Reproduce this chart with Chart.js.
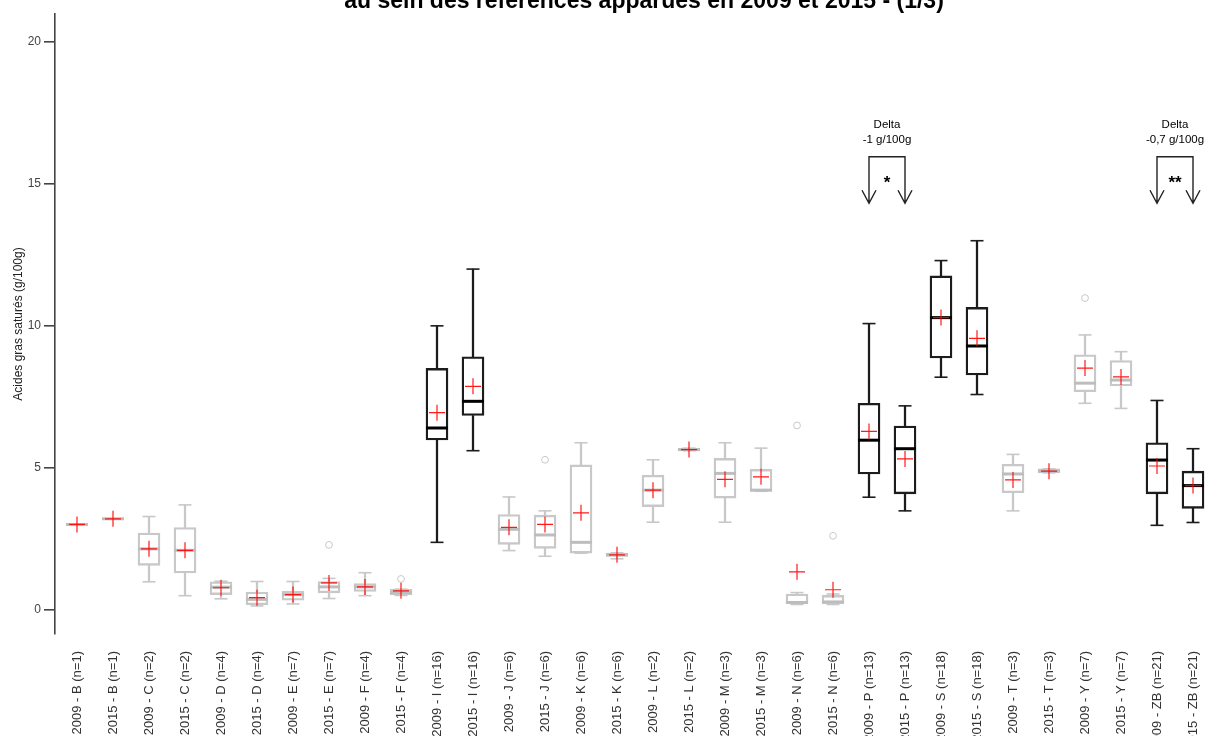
<!DOCTYPE html>
<html>
<head>
<meta charset="utf-8">
<script src="https://cdn.jsdelivr.net/npm/chart.js@4.4.1/dist/chart.umd.min.js"></script>
<style>
  html, body { margin: 0; padding: 0; background: #fff; }
  #wrap { width: 1211px; height: 736px; }
</style>
</head>
<body>
<div id="wrap"><canvas id="graf" width="1211" height="736"></canvas></div>
<script>
// titres
const titre = 'au sein des références apparues en 2009 et 2015 - (1/3)';
const titreAxeY = 'Acides gras saturés (g/100g)';

// categories (x)
const categories = [
  '2009 - B (n=1)', '2015 - B (n=1)', '2009 - C (n=2)', '2015 - C (n=2)',
  '2009 - D (n=4)', '2015 - D (n=4)', '2009 - E (n=7)', '2015 - E (n=7)',
  '2009 - F (n=4)', '2015 - F (n=4)', '2009 - I (n=16)', '2015 - I (n=16)',
  '2009 - J (n=6)', '2015 - J (n=6)', '2009 - K (n=6)', '2015 - K (n=6)',
  '2009 - L (n=2)', '2015 - L (n=2)', '2009 - M (n=3)', '2015 - M (n=3)',
  '2009 - N (n=6)', '2015 - N (n=6)', '2009 - P (n=13)', '2015 - P (n=13)',
  '2009 - S (n=18)', '2015 - S (n=18)', '2009 - T (n=3)', '2015 - T (n=3)',
  '2009 - Y (n=7)', '2015 - Y (n=7)', '2009 - ZB (n=21)', '2015 - ZB (n=21)'
];

// statistiques des boites (g/100g)
const moustacheBasse = [3.0, 3.2, 0.98, 0.49, 0.38, 0.13, 0.2, 0.39, 0.49, 0.5, 2.37, 5.6, 2.08, 1.88, 1.99, 1.79,
  3.08, 5.6, 3.08, 4.17, 0.18, 0.18, 3.96, 3.48, 8.19, 7.58, 3.48, 4.82, 7.27, 7.09, 2.97, 3.07];
const quartile1 = [3.0, 3.2, 1.56, 1.29, 0.53, 0.17, 0.33, 0.59, 0.64, 0.52, 5.98, 6.84, 2.3, 2.16, 1.99, 1.87,
  3.63, 5.6, 3.93, 4.17, 0.21, 0.21, 4.78, 4.08, 8.87, 8.27, 4.12, 4.82, 7.68, 7.88, 4.08, 3.57];
const mediane = [3.0, 3.2, 2.14, 2.09, 0.79, 0.36, 0.53, 0.8, 0.8, 0.6, 6.4, 7.34, 2.83, 2.63, 2.37, 1.93,
  4.21, 5.64, 4.8, 4.21, 0.25, 0.27, 5.97, 5.67, 10.29, 9.29, 4.78, 4.88, 7.98, 8.09, 5.27, 4.37];
const quartile3 = [3.0, 3.2, 2.7, 2.89, 0.98, 0.62, 0.64, 0.99, 0.92, 0.71, 8.5, 8.91, 3.35, 3.33, 5.1, 1.99,
  4.74, 5.69, 5.33, 4.94, 0.55, 0.5, 7.27, 6.47, 11.76, 10.65, 5.12, 4.96, 8.98, 8.78, 5.88, 4.88];
const moustacheHaute = [3.0, 3.2, 3.28, 3.69, 1.0, 0.99, 0.99, 1.1, 1.3, 0.72, 10.0, 12.0, 3.97, 3.48, 5.88, 2.0,
  5.28, 5.69, 5.88, 5.69, 0.6, 0.55, 10.08, 7.18, 12.3, 13.0, 5.47, 4.96, 9.68, 9.09, 7.37, 5.67];
const moyennes = [3.0, 3.2, 2.14, 2.09, 0.77, 0.42, 0.53, 0.94, 0.8, 0.66, 6.94, 7.87, 2.9, 3.0, 3.41, 1.93,
  4.21, 5.64, 4.59, 4.68, 1.33, 0.7, 6.28, 5.31, 10.29, 9.56, 4.57, 4.88, 8.51, 8.2, 5.06, 4.37];
// valeurs aberrantes : [index categorie, valeur]
const aberrants = [[7, 2.28], [9, 1.08], [13, 5.28], [20, 6.49], [21, 2.6], [28, 10.98]];

// references testees (boites noires) et comparaisons 2009 / 2015
const groupesTestes = ['I', 'P', 'S', 'ZB'];
const comparaisons = [
  { de: '2009 - P (n=13)', a: '2015 - P (n=13)', delta: '-1 g/100g', signif: '*' },
  { de: '2009 - ZB (n=21)', a: '2015 - ZB (n=21)', delta: '-0,7 g/100g', signif: '**' }
];
const ticksY = [0, 5, 10, 15, 20];
const X_MIN = -0.611, X_MAX = 31.5;

const POLICE = '"Liberation Sans", Arial, sans-serif';
const groupe = lab => lab.split(' - ')[1].split(' ')[0];
const estTeste = i => groupesTestes.includes(groupe(categories[i]));
const couleurTrait = i => estTeste(i) ? '#1c1c1c' : '#c8c8c8';
const couleurMediane = i => estTeste(i) ? '#000000' : '#bdbdbd';
const idx = categories.map((c, i) => i);

const annotations = {
  id: 'annotations',
  afterDraw(chart) {
    const ctx = chart.ctx;
    const sx = chart.scales.x, sy = chart.scales.y;
    ctx.save();
    // titre (coupe en haut comme sur l'original)
    ctx.fillStyle = '#000';
    ctx.font = 'bold 23px ' + POLICE;
    ctx.textAlign = 'center';
    ctx.textBaseline = 'alphabetic';
    ctx.fillText(titre, 644, 7.5);

    comparaisons.forEach(c => {
      const x1 = sx.getPixelForValue(categories.indexOf(c.de));
      const x2 = sx.getPixelForValue(categories.indexOf(c.a));
      const xm = (x1 + x2) / 2;
      const yHaut = sy.getPixelForValue(15.96);
      const yBas = sy.getPixelForValue(14.32);
      ctx.strokeStyle = '#222';
      ctx.lineWidth = 1.4;
      ctx.beginPath();
      ctx.moveTo(x1, yBas); ctx.lineTo(x1, yHaut); ctx.lineTo(x2, yHaut); ctx.lineTo(x2, yBas);
      [x1, x2].forEach(xx => {
        ctx.moveTo(xx - 7, yBas - 13); ctx.lineTo(xx, yBas); ctx.lineTo(xx + 7, yBas - 13);
      });
      ctx.stroke();

      ctx.fillStyle = '#000';
      ctx.textBaseline = 'middle';
      ctx.font = '11.5px ' + POLICE;
      ctx.fillText('Delta', xm, sy.getPixelForValue(17.07));
      ctx.fillText(c.delta, xm, sy.getPixelForValue(16.56));
      ctx.font = 'bold 17px ' + POLICE;
      ctx.textBaseline = 'alphabetic';
      ctx.fillText(c.signif, xm, sy.getPixelForValue(14.85));
    });
    ctx.restore();
  }
};

new Chart(document.getElementById('graf'), {
  type: 'bar',
  data: {
    datasets: [
      {
        type: 'scatter', label: 'Moyenne', order: 0,
        data: idx.map(i => ({ x: i, y: moyennes[i] })),
        pointStyle: 'cross', pointRadius: 8, pointHoverRadius: 8,
        borderColor: 'rgba(255, 0, 0, 0.9)', borderWidth: 1.2
      },
      {
        type: 'scatter', label: 'Médiane', order: 1,
        data: idx.map(i => ({ x: i, y: mediane[i] })),
        pointStyle: 'line', pointRadius: 11, pointHoverRadius: 11,
        borderColor: idx.map(couleurMediane), borderWidth: 3
      },
      {
        type: 'scatter', label: 'Aberrants', order: 2,
        data: aberrants.map(a => ({ x: a[0], y: a[1] })),
        pointStyle: 'circle', pointRadius: 3.4, pointHoverRadius: 3.4,
        borderColor: aberrants.map(a => couleurTrait(a[0])),
        backgroundColor: 'rgba(255,255,255,0)', borderWidth: 1
      },
      {
        type: 'bar', label: 'Boîte', order: 3, grouped: false,
        data: idx.map(i => ({ x: i, y: [quartile1[i], quartile3[i]] })),
        backgroundColor: 'rgba(255,255,255,0)',
        borderColor: idx.map(couleurTrait), borderWidth: 1.7,
        borderSkipped: false, barThickness: 22
      },
      {
        type: 'scatter', label: 'Extrémité haute', order: 4,
        data: idx.map(i => ({ x: i, y: moustacheHaute[i] })),
        pointStyle: 'line', pointRadius: 6.5, pointHoverRadius: 6.5,
        borderColor: idx.map(couleurTrait), borderWidth: 1.6
      },
      {
        type: 'scatter', label: 'Extrémité basse', order: 4,
        data: idx.map(i => ({ x: i, y: moustacheBasse[i] })),
        pointStyle: 'line', pointRadius: 6.5, pointHoverRadius: 6.5,
        borderColor: idx.map(couleurTrait), borderWidth: 1.6
      },
      {
        type: 'bar', label: 'Moustache haute', order: 5, grouped: false,
        data: idx.map(i => ({ x: i, y: [quartile3[i], moustacheHaute[i]] })),
        backgroundColor: idx.map(couleurTrait), borderWidth: 0, barThickness: 1.6
      },
      {
        type: 'bar', label: 'Moustache basse', order: 5, grouped: false,
        data: idx.map(i => ({ x: i, y: [moustacheBasse[i], quartile1[i]] })),
        backgroundColor: idx.map(couleurTrait), borderWidth: 0, barThickness: 1.6
      }
    ]
  },
  options: {
    responsive: false,
    animation: false,
    layout: { autoPadding: false, padding: { top: 14, left: 0, right: 0, bottom: 0 } },
    plugins: { legend: { display: false }, tooltip: { enabled: false } },
    scales: {
      x: {
        type: 'linear', min: X_MIN, max: X_MAX, offset: false, bounds: 'data',
        grid: { display: false, drawTicks: false },
        border: { display: false },
        afterBuildTicks: s => { s.min = X_MIN; s.max = X_MAX; s.ticks = idx.map(i => ({ value: i })); },
        afterFit: s => { s.height = 102; s.paddingLeft = 0; s.paddingRight = 0; },
        ticks: {
          autoSkip: false, minRotation: 90, maxRotation: 90, padding: 17,
          color: '#333', font: { family: POLICE, size: 13 },
          callback: v => categories[v]
        }
      },
      y: {
        min: -0.86, max: 20.99,
        afterBuildTicks: s => { s.ticks = ticksY.map(v => ({ value: v })); },
        afterFit: s => { s.width = 55; },
        border: { display: true, color: '#444', width: 1.6 },
        grid: { drawOnChartArea: false, drawTicks: true, tickLength: 11, color: '#444', lineWidth: 1.6 },
        ticks: { padding: 3, color: '#444', font: { family: POLICE, size: 12 } },
        title: {
          display: true, text: titreAxeY, color: '#222',
          font: { family: POLICE, size: 12 }, padding: { top: 11, bottom: 0 }
        }
      }
    }
  },
  plugins: [annotations]
});
</script>
</body>
</html>
